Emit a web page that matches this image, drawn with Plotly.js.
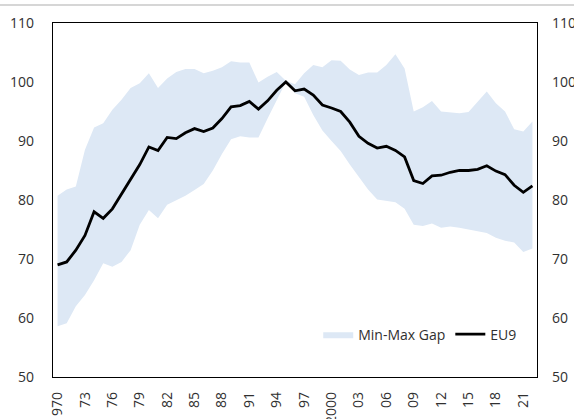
<!DOCTYPE html>
<html>
<head>
<meta charset="utf-8">
<script src="https://cdn.plot.ly/plotly-3.0.1.min.js"></script>
<style>html,body{margin:0;padding:0;background:#fff;}#chart{width:574px;height:419px;}</style>
</head>
<body>
<div id="chart"></div>
<script>
var years = [];
for (var y = 1970; y <= 2022; y++) years.push(y);

var eu9 = [69.0, 69.5, 71.5, 74.0, 78.0, 76.9, 78.5, 81.0, 83.3, 86.0,
           89.0, 88.4, 90.6, 90.4, 91.4, 92.1, 91.6, 92.2, 93.8, 95.8,
           96.0, 96.7, 95.4, 96.8, 98.6, 100.0, 98.5, 98.8, 97.8, 96.1,
           95.6, 95.0, 93.2, 90.8, 89.6, 88.8, 89.1, 88.4, 87.3, 83.3,
           82.8, 84.1, 84.2, 84.7, 85.0, 85.0, 85.2, 85.8, 84.9, 84.3,
           82.5, 81.3, 82.4];

var maxGap = [80.7, 81.8, 82.3, 88.5, 92.3, 93.0, 95.3, 97.0, 99.0, 99.8,
              101.5, 99.0, 100.6, 101.7, 102.2, 102.2, 101.5, 101.9, 102.5, 103.5,
              103.3, 103.3, 99.9, 100.9, 101.7, 100.2, 99.6, 101.5, 102.9, 102.5,
              103.7, 103.6, 102.1, 101.2, 101.6, 101.6, 102.9, 104.7, 102.3, 95.0,
              95.7, 96.8, 95.0, 94.8, 94.7, 94.9, 96.7, 98.4, 96.4, 95.0,
              92.0, 91.6, 93.3];

var minGap = [58.6, 59.1, 62.0, 63.9, 66.4, 69.3, 68.7, 69.5, 71.5, 75.8,
              78.3, 76.9, 79.2, 80.0, 80.7, 81.7, 82.7, 85.0, 87.8, 90.3,
              90.8, 90.6, 90.6, 93.8, 97.0, 100.0, 98.1, 97.5, 94.4, 91.8,
              90.0, 88.3, 86.0, 83.8, 81.8, 80.1, 79.8, 79.6, 78.5, 75.8,
              75.6, 76.0, 75.3, 75.5, 75.3, 75.0, 74.6, 74.4, 73.6, 73.1,
              72.8, 71.2, 71.8];

var xTickVals = [1970, 1973, 1976, 1979, 1982, 1985, 1988, 1991, 1994, 1997,
                 2000, 2003, 2006, 2009, 2012, 2015, 2018, 2021];
var xTickText = ['1970', '73', '76', '79', '82', '85', '88', '91', '94', '97',
                 '2000', '03', '06', '09', '12', '15', '18', '21'];
var yTickVals = [50, 60, 70, 80, 90, 100, 110];

var bandColor = 'rgb(221,232,245)';
var textColor = '#303030';
var fontFam = '"Open Sans", "Noto Sans", sans-serif';

var traces = [
  {x: years, y: maxGap, type: 'scatter', mode: 'lines', line: {width: 0, color: bandColor},
   showlegend: false, hoverinfo: 'skip'},
  {x: years, y: minGap, type: 'scatter', mode: 'lines', line: {width: 0, color: bandColor},
   fill: 'tonexty', fillcolor: bandColor, name: 'Min-Max Gap'},
  {x: years, y: eu9, type: 'scatter', mode: 'lines', line: {width: 2.8, color: '#000'},
   name: 'EU9'},
  {x: years, y: eu9, type: 'scatter', mode: 'lines', yaxis: 'y2', line: {width: 0},
   showlegend: false, hoverinfo: 'skip', opacity: 0}
];

var layout = {
  width: 574, height: 419,
  margin: {l: 53, r: 37, t: 23, b: 42},
  paper_bgcolor: '#fff', plot_bgcolor: '#fff',
  font: {family: fontFam, size: 14, color: textColor},
  showlegend: true,
  legend: {orientation: 'h', x: 0.548, y: 0.165, xanchor: 'left', yanchor: 'top',
           traceorder: 'normal',
           bgcolor: 'rgba(0,0,0,0)', font: {size: 14, color: textColor}, itemwidth: 30,
           tracegroupgap: 0},
  xaxis: {range: [1969.5, 2022.5], tickmode: 'array', tickvals: xTickVals, ticktext: xTickText,
          tickangle: -90, showgrid: false, zeroline: false, showline: true, linecolor: '#000',
          linewidth: 1.3, mirror: true, ticks: '', ticklabelstandoff: 8},
  yaxis: {range: [50, 110], tickmode: 'array', tickvals: yTickVals, showgrid: false,
          zeroline: false, showline: true, linecolor: '#000', linewidth: 1.3, mirror: true,
          ticks: '', ticklabelstandoff: 15},
  yaxis2: {range: [50, 110], overlaying: 'y', side: 'right', tickmode: 'array',
           tickvals: yTickVals, showgrid: false, zeroline: false, showline: false,
           ticks: '', ticklabelstandoff: 14},
  shapes: [
    {type: 'line', xref: 'paper', yref: 'paper', x0: -0.11, x1: 1.08,
     y0: 1.0508, y1: 1.0508, line: {color: '#c8c8c8', width: 1.5}}
  ]
};

Plotly.newPlot('chart', traces, layout, {staticPlot: true, displayModeBar: false});
</script>
</body>
</html>
